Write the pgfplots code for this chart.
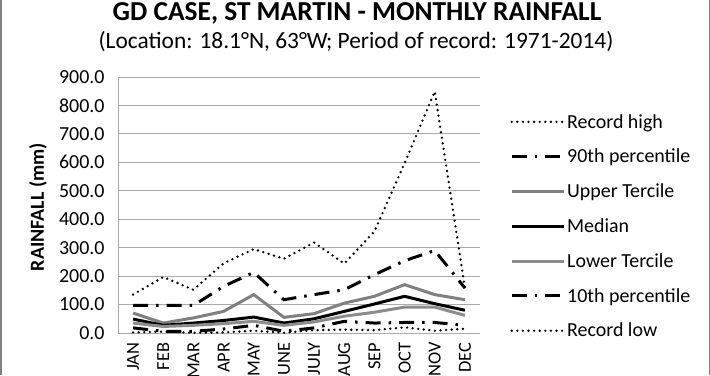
\documentclass[border=0pt]{standalone}
\usepackage{pgfplots}
\pgfplotsset{compat=1.18}
\usepackage{fontspec}
\setmainfont{Carlito}
\definecolor{gridc}{RGB}{170,170,170}
\definecolor{upc}{RGB}{128,128,128}
\definecolor{loc}{RGB}{140,140,140}
\begin{document}
\begin{tikzpicture}[x=1bp,y=1bp]
\useasboundingbox (0,0) rectangle (710,375);
\draw[upc,line width=3bp] (0,0) -- (0,375);
\draw[upc,line width=3bp] (710,0) -- (710,375);
\node[font=\fontsize{27.5}{30}\selectfont\bfseries] at (357,362) {GD CASE, ST MARTIN - MONTHLY RAINFALL};
\node[font=\fontsize{23.5}{26}\selectfont] at (356,333) {(Location: 18.1°N, 63°W; Period of record: 1971-2014)};
\node[font=\fontsize{20}{22}\selectfont\bfseries,rotate=90] at (38,168) {RAINFALL (mm)};
\begin{axis}[
  at={(118bp,42bp)}, anchor=south west,
  scale only axis, width=362bp, height=256bp,
  xmin=-0.5, xmax=11.5, ymin=0, ymax=900,
  ytick={0,100,...,900},
  yticklabel={\pgfmathprintnumber[fixed,fixed zerofill,precision=1]{\tick}},
  /pgf/number format/assume math mode=true,
  xtick={0,...,11},
  xticklabels={JAN,FEB,MAR,APR,MAY,JUNE,JULY,AUG,SEP,OCT,NOV,DEC},
  xticklabel style={rotate=90,anchor=east,font=\fontsize{18.5}{20}\selectfont},
  yticklabel style={font=\fontsize{20}{22}\selectfont},
  yticklabel shift=10bp, xticklabel shift=6bp,
  ymajorgrids, grid style={gridc,line width=1bp},
  axis x line*=bottom, axis y line*=left,
  axis line style={gridc,line width=1bp},
  tick style={draw=none},
  xtick pos=bottom,
  clip=false,
  legend style={at={(510bp-118bp,375bp-112bp-42bp)},anchor=north west, draw=none, fill=none,
    font=\fontsize{20}{22}\selectfont, row sep=15.5bp, inner sep=0pt},
  legend cell align=left,
  legend image code/.code={\draw[#1] (0bp,0bp) -- (52bp,0bp);},
]
\addplot[black,line width=2.6bp,line cap=round,dash pattern=on 0bp off 5.6bp] coordinates {(0,135)(1,197)(2,152)(3,245)(4,295)(5,261)(6,318)(7,244)(8,357)(9,597)(10,849)(11,158)};
\addlegendentry{Record high}
\addplot[black,line width=3bp,dash pattern=on 15bp off 8bp on 2.5bp off 8bp] coordinates {(0,97)(1,97)(2,97)(3,164)(4,213)(5,117)(6,135)(7,152)(8,205)(9,254)(10,290)(11,158)};
\addlegendentry{90th percentile}
\addplot[upc,line width=3bp] coordinates {(0,70)(1,35)(2,53)(3,76)(4,135)(5,55)(6,68)(7,105)(8,129)(9,170)(10,135)(11,117)};
\addlegendentry{Upper Tercile}
\addplot[black,line width=3bp] coordinates {(0,49)(1,27)(2,35)(3,44)(4,56)(5,35)(6,50)(7,76)(8,102)(9,129)(10,103)(11,80)};
\addlegendentry{Median}
\addplot[loc,line width=3bp] coordinates {(0,35)(1,23)(2,27)(3,33)(4,41)(5,27)(6,39)(7,59)(8,73)(9,91)(10,91)(11,62)};
\addlegendentry{Lower Tercile}
\addplot[black,line width=3bp,dash pattern=on 15bp off 8bp on 2.5bp off 8bp] coordinates {(0,18)(1,6)(2,6)(3,14)(4,27)(5,6)(6,18)(7,41)(8,35)(9,37)(10,37)(11,27)};
\addlegendentry{10th percentile}
\addplot[black,line width=2.6bp,line cap=round,dash pattern=on 0bp off 5.6bp] coordinates {(0,2)(1,5)(2,1)(3,2)(4,8)(5,1)(6,10)(7,12)(8,10)(9,20)(10,8)(11,15)};
\addlegendentry{Record low}
\end{axis}
\end{tikzpicture}
\end{document}
